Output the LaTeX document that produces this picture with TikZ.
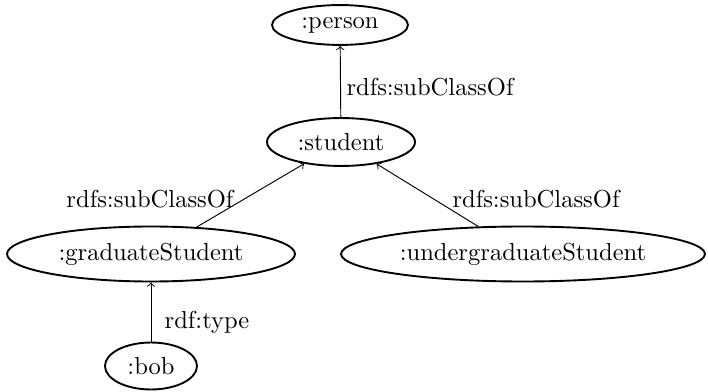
\documentclass[tikz,border=0pt]{standalone}
\usetikzlibrary{shapes.geometric}
\begin{document}
\begin{tikzpicture}[x=0.4237pt,y=-0.4237pt,
  every node/.style={font=\fontsize{10.4pt}{12.5pt}\selectfont},
  cls/.style={draw,ellipse,thick,inner sep=0pt},
  lbl/.style={inner sep=0pt},
  rel/.style={->}]
\useasboundingbox (0,0) rectangle (708,392);
\node[cls,minimum width=57.6pt,minimum height=16.9pt] (person) at (340,25) {:person};
\node[cls,minimum width=62.7pt,minimum height=20.3pt] (student) at (341,142) {:student};
\node[cls,minimum width=122pt,minimum height=23.3pt] (grad) at (151,254) {:graduateStudent};
\node[cls,minimum width=154.2pt,minimum height=23.3pt] (ugrad) at (523,254) {:undergraduateStudent};
\node[cls,minimum width=39pt,minimum height=19.9pt] (bob) at (151,366) {:bob};
\draw[rel] (student) -- (person);
\draw[rel] (grad) -- (student);
\draw[rel] (ugrad) -- (student);
\draw[rel] (bob) -- (grad);
\node[lbl] (l1) at (430,87) {rdfs:subClassOf};
\node[lbl] (l2) at (150,199) {rdfs:subClassOf};
\node[lbl] (l3) at (536,199) {rdfs:subClassOf};
\node[lbl] (l4) at (207,322) {rdf:type};
\end{tikzpicture}
\end{document}
